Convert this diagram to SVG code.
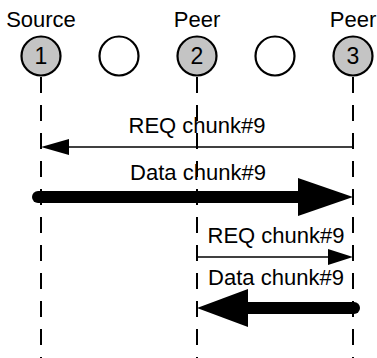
<svg xmlns="http://www.w3.org/2000/svg" width="377" height="358" viewBox="0 0 377 358">
<style>
text{font-family:"Liberation Sans",Arial,sans-serif;fill:#000}
.lbl{font-size:22px;text-anchor:middle}
.num{font-size:23px;text-anchor:middle}
.peer{fill:#c4c4c4;stroke:#000;stroke-width:2.2}
.empty{fill:#fff;stroke:#000;stroke-width:2.2}
.life{stroke:#000;stroke-width:2;stroke-dasharray:16 12;fill:none}
.thin{stroke:#000;stroke-width:1.6;fill:none}
.thick{stroke:#000;stroke-width:12;fill:none;stroke-linecap:round}
.head{fill:#000}
</style>
<rect width="377" height="358" fill="#fff"/>
<g id="node1">
<text class="lbl" x="41" y="27">Source</text>
<circle class="peer" cx="41" cy="56" r="19.5"/>
<text class="num" x="41" y="64">1</text>
</g>
<g id="node-empty1"><circle class="empty" cx="119" cy="56" r="19.5"/></g>
<g id="node2">
<text class="lbl" x="197" y="27">Peer</text>
<circle class="peer" cx="197" cy="56" r="19.5"/>
<text class="num" x="197" y="64">2</text>
</g>
<g id="node-empty2"><circle class="empty" cx="275" cy="56" r="19.5"/></g>
<g id="node3">
<text class="lbl" x="353" y="27">Peer</text>
<circle class="peer" cx="353" cy="56" r="19.5"/>
<text class="num" x="353" y="64">3</text>
</g>
<g id="connectors">
<line class="life" x1="41" y1="77" x2="41" y2="358"/>
<line class="life" x1="197" y1="77" x2="197" y2="358"/>
<line class="life" x1="353" y1="77" x2="353" y2="358"/>

<line class="thin" x1="353" y1="147" x2="60" y2="147"/>
<polygon class="head" points="41,147 69,139 69,155"/>
<text class="lbl" x="197" y="133">REQ chunk#9</text>

<line class="thick" x1="38" y1="197" x2="310" y2="197"/>
<polygon class="head" points="353,197 298,178 298,216"/>
<text class="lbl" x="198" y="180">Data chunk#9</text>

<line class="thin" x1="197" y1="257" x2="335" y2="257"/>
<polygon class="head" points="353,257 328,249 328,265"/>
<text class="lbl" x="276" y="243">REQ chunk#9</text>

<line class="thick" x1="354" y1="308" x2="240" y2="308"/>
<polygon class="head" points="197,308 248,289 248,327"/>
<text class="lbl" x="276" y="285">Data chunk#9</text>
</g>
</svg>
